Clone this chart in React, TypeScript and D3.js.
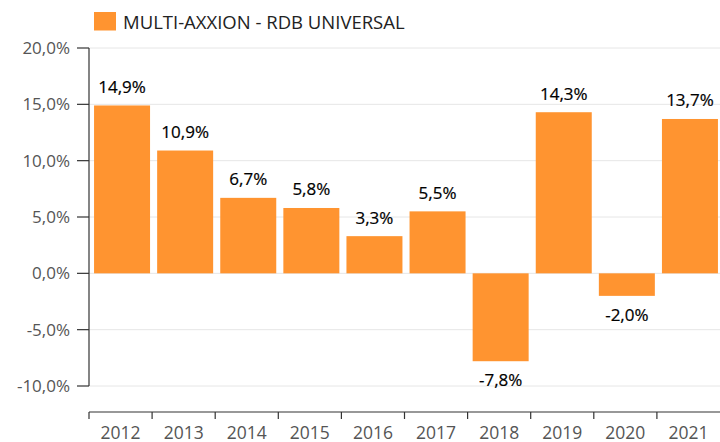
import React from "react";
import * as d3 from "d3";

const years = ["2012","2013","2014","2015","2016","2017","2018","2019","2020","2021"];
const values = [14.9, 10.9, 6.7, 5.8, 3.3, 5.5, -7.8, 14.3, -2.0, 13.7];
const yTicks = [20, 15, 10, 5, 0, -5, -10];
const seriesName = "MULTI-AXXION - RDB UNIVERSAL";

const W = 720, H = 442;
const left = 89, right = 720, top = 48, bottom = 386, xAxisY = 412;
const font = "'Open Sans', 'Noto Sans', sans-serif";
const fmt = (v: number) => v.toFixed(1).replace(".", ",") + "%";

export default function App() {
  const x = d3.scaleBand<string>().domain(years).range([left, right]).paddingInner(0).paddingOuter(0);
  const y = d3.scaleLinear().domain([-10, 20]).range([bottom, top]);
  const bw = x.bandwidth();
  const bar = 56;
  return (
    <svg width={W} height={H} style={{ position: "absolute", left: 0, top: 0 }}>
      <rect x={94} y={12} width={22} height={18.5} fill="#FF9430" />
      <text x={123} y={29} fontFamily={font} fontSize={18.5} fill="#222">{seriesName}</text>
      {yTicks.map((t) => (
        <g key={t}>
          <line x1={left} x2={right} y1={y(t)} y2={y(t)} stroke="#e6e6e6" strokeWidth={1} />
          <line x1={77} x2={left} y1={y(t)} y2={y(t)} stroke="#333" strokeWidth={1.2} />
          <text x={70} y={y(t)} dy="0.36em" textAnchor="end" fontFamily={font} fontSize={17} fill="#555">{fmt(t)}</text>
        </g>
      ))}
      <line x1={left} x2={left} y1={top} y2={bottom} stroke="#333" strokeWidth={1.2} />
      {years.map((yr, i) => {
        const v = values[i];
        const bx = (x(yr) as number) + (bw - bar) / 2 + 1.5;
        const y0 = y(0), y1 = y(v);
        return (
          <g key={yr}>
            <rect x={bx} y={Math.min(y0, y1)} width={bar} height={Math.abs(y1 - y0)} fill="#FF9430" />
            <text x={bx + bar / 2} y={v >= 0 ? y1 - 12.5 : y1 + 25} textAnchor="middle" fontFamily={font} fontSize={17} fill="#000" stroke="#000" strokeWidth={0.2}>{fmt(v)}</text>
          </g>
        );
      })}
      <line x1={left} x2={right} y1={xAxisY} y2={xAxisY} stroke="#333" strokeWidth={1.2} />
      {years.map((yr) => (
        <line key={"t" + yr} x1={(x(yr) as number)} x2={(x(yr) as number)} y1={xAxisY} y2={xAxisY + 7} stroke="#333" strokeWidth={1.2} />
      ))}
      {years.map((yr) => (
        <text key={"l" + yr} x={(x(yr) as number) + bw / 2} y={438.5} textAnchor="middle" fontFamily={font} fontSize={17.5} fill="#555">{yr}</text>
      ))}
    </svg>
  );
}
